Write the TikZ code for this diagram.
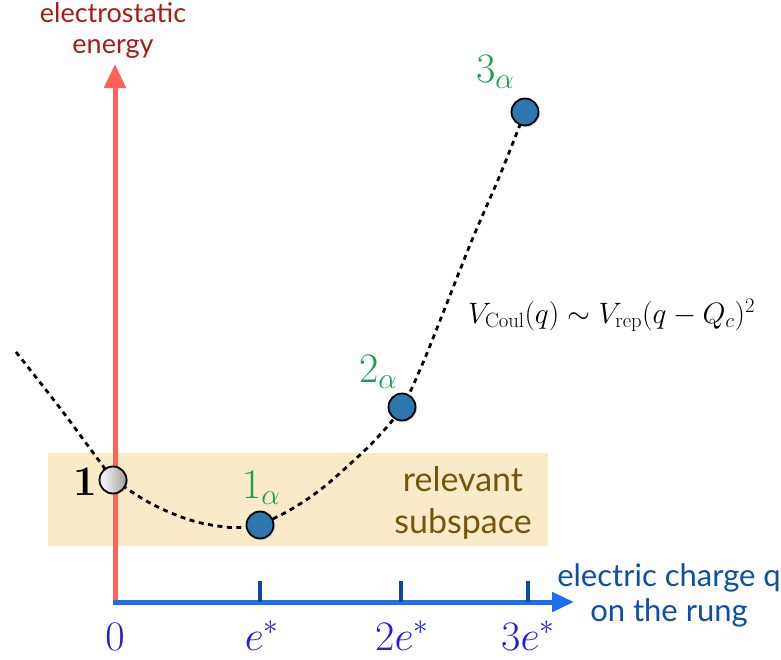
\RequirePackage{fix-cm}
\documentclass[tikz,border=0pt]{standalone}
\usepackage[no-math]{fontspec}
\setmainfont{Lato}
\usetikzlibrary{arrows.meta,shadows}
\definecolor{axisred}{HTML}{FF6257}
\definecolor{axisblue}{HTML}{1C6EEE}
\definecolor{tickblue}{HTML}{0D47A1}
\definecolor{lblblue}{HTML}{1E1EE0}
\definecolor{stgreen}{HTML}{14A050}
\definecolor{titlered}{HTML}{A81C14}
\definecolor{xlblue}{HTML}{0D4FA8}
\definecolor{boxcol}{HTML}{F9EBC8}
\definecolor{browntxt}{HTML}{765708}
\definecolor{ballblue}{HTML}{2D77AE}
\tikzset{
  ball/.style={circle, draw=black, line width=1.8pt, minimum size=27pt, inner sep=0pt, fill=ballblue,
    drop shadow={shadow xshift=1.5pt, shadow yshift=-1.5pt, opacity=0.25}},
  grayball/.style={ball, fill=none, left color=white, right color=gray!75},
  ticklbl/.style={anchor=base, inner sep=0pt, text=lblblue, font=\fontsize{42}{42}\selectfont},
  statelbl/.style={anchor=base west, inner sep=0pt, text=stgreen, font=\fontsize{42}{42}\selectfont},
  tickmark/.style={draw=tickblue, line width=4pt},
  curve/.style={line width=2.8pt, dash pattern=on 5pt off 4.5pt},
}
\begin{document}
\begin{tikzpicture}[x=1pt,y=-1pt]
\useasboundingbox (0,0) rectangle (781,659);
% relevant subspace box
\fill[boxcol] (48,453) rectangle (548,546);
\node[text=browntxt, align=center, font=\fontsize{34}{42}\selectfont] (rel) at (463,503) {relevant\\subspace};
% curve
\draw[curve] plot[smooth, tension=0.6] coordinates {(16,352) (60,408) (100,462) (114,479) (150,503) (190,520) (225,527) (245,527) (261,524) (290,510) (320,490) (350,464) (377,438) (402,407) (422,365) (445,308) (472,240) (500,175) (525,112)};
% axes
\coordinate (O) at (115,604);
\coordinate (ytip) at (115,64);
\coordinate (xstart) at (113,602);
\coordinate (xtip) at (574,602);
\draw[axisred, line width=5pt, -{Triangle[length=24pt,width=21pt]}] (O) -- (ytip);
\draw[axisblue, line width=5pt, -{Triangle[length=22pt,width=19pt]}] (xstart) -- (xtip);
% ticks
\coordinate (t1) at (260,602); \coordinate (t1e) at (260,581);
\coordinate (t2) at (401,602); \coordinate (t2e) at (401,581);
\coordinate (t3) at (528,602); \coordinate (t3e) at (528,581);
\draw[tickmark] (t1) -- (t1e);
\draw[tickmark] (t2) -- (t2e);
\draw[tickmark] (t3) -- (t3e);
% tick labels
\node[ticklbl] (l0) at (115,650) {$0$};
\node[ticklbl] (l1) at (262,650) {$e^*$};
\node[ticklbl] (l2) at (402,650) {$2e^*$};
\node[ticklbl] (l3) at (528,650) {$3e^*$};
% balls
\node[grayball] (b0) at (113,480) {};
\node[ball] (b1) at (260,525) {};
\node[ball] (b2) at (402,407) {};
\node[ball] (b3) at (525,112) {};
% state labels
\node[anchor=base, inner sep=0pt, font=\fontsize{42}{42}\selectfont] (s0) at (85,495) {$\mathbf{1}$};
\node[statelbl] (s1) at (242,498) {$1_\alpha$};
\node[statelbl] (s2) at (359,382) {$2_\alpha$};
\node[statelbl] (s3) at (476,82) {$3_\alpha$};
% formula
\node[anchor=base west, inner sep=0pt, font=\fontsize{29.5}{29.5}\selectfont] (formula) at (468,323) {$V_{\mathrm{Coul}}(q)\sim V_{\mathrm{rep}}(q-Q_c)^2$};
% axis titles
\node[text=titlered, align=center, font=\fontsize{27}{31}\selectfont] (ytitle) at (113,31) {electrostatic\\energy};
\node[text=xlblue, align=center, font=\fontsize{31}{35}\selectfont] (xtitle) at (669,595) {electric charge q\\on the rung};
\end{tikzpicture}
\end{document}
